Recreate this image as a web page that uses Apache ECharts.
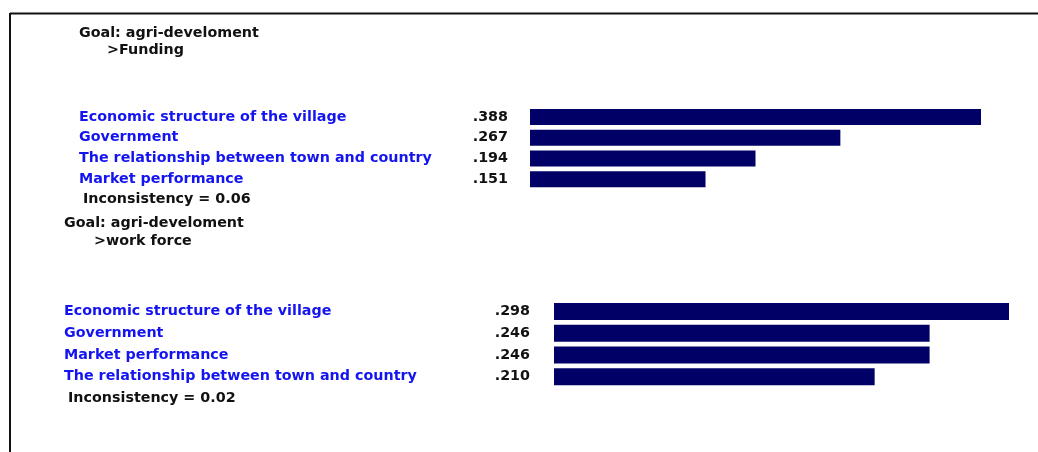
<!DOCTYPE html>
<html>
<head>
<meta charset="utf-8">
<script src="https://cdn.jsdelivr.net/npm/echarts@6/dist/echarts.min.js"></script>
<style>
  html, body { margin: 0; padding: 0; background: #fff; }
  #chart { width: 1038px; height: 452px; }
</style>
</head>
<body>
<div id="chart"></div>
<script>
// Funding panel
var fundingNames = ['Economic structure of the village', 'Government', 'The relationship between town and country', 'Market performance'];
var fundingValues = [0.388, 0.267, 0.194, 0.151];
// Work force panel
var workNames = ['Economic structure of the village', 'Government', 'Market performance', 'The relationship between town and country'];
var workValues = [0.298, 0.246, 0.246, 0.210];

var FONT = '"DejaVu Sans", Verdana, sans-serif';
var SIZE = 14.3;
var BLUE = '#1414f0';
var NAVY = '#000066';

function shortNum(v) {
    return v.toFixed(3).replace(/^0/, '');
}

var chart = echarts.init(document.getElementById('chart'));

function txt(str, x, y) {
    return {
        type: 'text', x: x, y: y,
        style: { text: str, font: 'bold ' + SIZE + 'px ' + FONT, fill: '#111', verticalAlign: 'middle' }
    };
}

var option = {
    animation: false,
    grid: [
        { left: 530, top: 106.5, width: 451, height: 83 },
        { left: 554, top: 300.5, width: 455, height: 87 }
    ],
    xAxis: [
        { gridIndex: 0, type: 'value', min: 0, max: Math.max.apply(null, fundingValues), show: false },
        { gridIndex: 1, type: 'value', min: 0, max: Math.max.apply(null, workValues), show: false }
    ],
    yAxis: [
        {
            gridIndex: 0, type: 'category', data: fundingNames, inverse: true,
            axisLine: { show: false }, axisTick: { show: false },
            axisLabel: { align: 'left', margin: 451, color: BLUE, fontFamily: FONT, fontSize: SIZE, fontWeight: 'bold' }
        },
        {
            gridIndex: 1, type: 'category', data: workNames, inverse: true,
            axisLine: { show: false }, axisTick: { show: false },
            axisLabel: { align: 'left', margin: 490, color: BLUE, fontFamily: FONT, fontSize: SIZE, fontWeight: 'bold' }
        }
    ],
    series: [
        {
            type: 'bar', xAxisIndex: 0, yAxisIndex: 0, data: fundingValues,
            barWidth: 16, itemStyle: { color: NAVY },
            label: {
                show: true, position: 'left', distance: 22,
                color: '#111', fontFamily: FONT, fontSize: SIZE, fontWeight: 'bold',
                formatter: function (p) { return shortNum(p.value); }
            }
        },
        {
            type: 'bar', xAxisIndex: 1, yAxisIndex: 1, data: workValues,
            barWidth: 17, itemStyle: { color: NAVY },
            label: {
                show: true, position: 'left', distance: 24,
                color: '#111', fontFamily: FONT, fontSize: SIZE, fontWeight: 'bold',
                formatter: function (p) { return shortNum(p.value); }
            }
        }
    ],
    graphic: [
        { type: 'line', shape: { x1: 10, y1: 13.5, x2: 1038, y2: 13.5 }, style: { stroke: '#111', lineWidth: 2 } },
        { type: 'line', shape: { x1: 10, y1: 13, x2: 10, y2: 452 }, style: { stroke: '#111', lineWidth: 2 } },
        txt('Goal: agri-develoment', 79, 33),
        txt('>Funding', 107, 50),
        txt('Inconsistency = 0.06', 83, 199),
        txt('Goal: agri-develoment', 64, 223),
        txt('>work force', 94, 241),
        txt('Inconsistency = 0.02', 68, 398)
    ]
};

chart.setOption(option);
</script>
</body>
</html>
